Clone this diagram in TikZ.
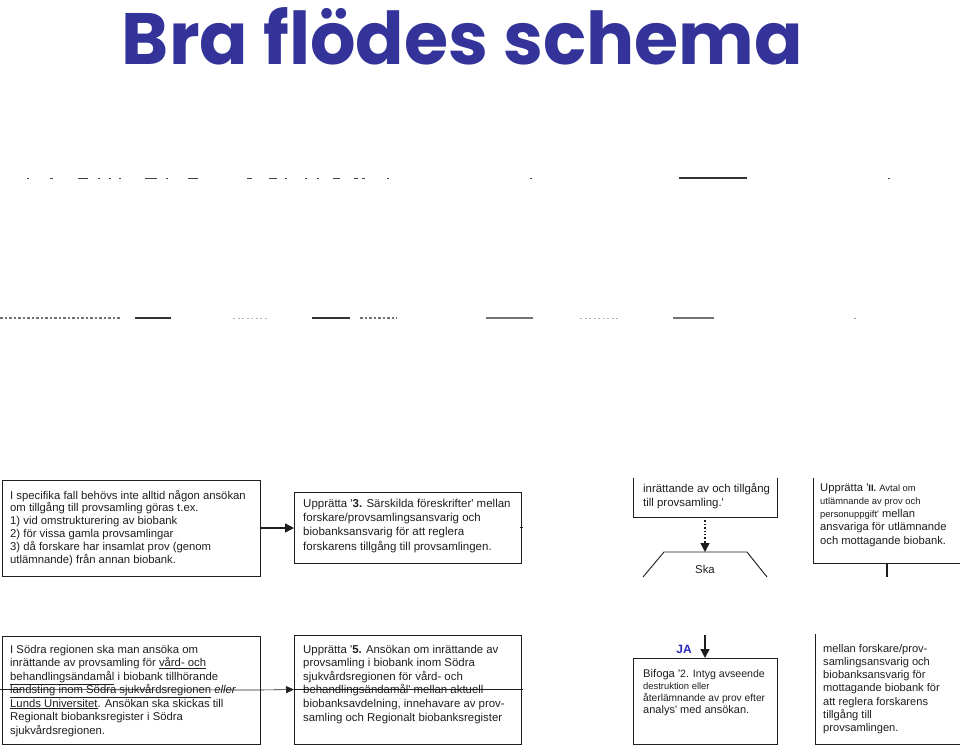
\documentclass[tikz,border=0pt]{standalone}
\usepackage{fontspec}
\setmainfont{Liberation Sans}[Ligatures=TeXOff]
\newfontfamily\titlefont{Poppins}
\usetikzlibrary{arrows.meta}
\definecolor{titleblue}{RGB}{51,51,153}
\definecolor{jablue}{RGB}{40,40,190}
\definecolor{ink}{RGB}{30,30,30}
\newcommand\smf{\fontsize{9.4}{12}\selectfont}
\newcommand\mdf{\fontsize{10.2}{12}\selectfont}
\newcommand\nmf{\fontsize{11.2}{12}\selectfont}
\begin{document}
\begin{tikzpicture}[x=1pt,y=-1pt,
  boxnode/.style={draw=ink,line width=0.9pt,inner sep=0pt,outer sep=0pt,anchor=north west},
  boxline/.style={draw=ink,line width=0.9pt},
  txt/.style={anchor=base west,inner sep=0pt,align=left,text=ink},
  frag/.style={draw=black!80,line width=1.3pt},
  fragdot/.style={draw=black!55,line width=1.2pt,dash pattern=on 2.5pt off 2pt},
  arrowtip/.style={-{Triangle[width=9pt,length=9pt]}}]
\useasboundingbox (0,0) rectangle (960,746);

% title
\node[anchor=base,inner sep=0pt,text=titleblue] (title) at (462.5,65)
  {\resizebox{681pt}{57pt}{\titlefont\bfseries Bra flödes schema}};

% clipped fragments at the top
\coordinate (f1a) at (679,178); \coordinate (f1b) at (747,178);
\draw[frag] (f1a) -- (f1b);
\foreach \a/\b in {27/29,50/53,78/88,98/100,109/111,119/121,145/157,166/168,188/198,247/252,269/277,285/287,305/307,317/319,333/340,354/358,362/365,387/389,530/532,888/890}
  \draw[draw=black!75,line width=1.2pt] (\a,178.5) -- (\b,178.5);
\foreach \a/\b in {135/171,312/350}
  \draw[frag] (\a,318) -- (\b,318);
\foreach \a/\b in {486/533,673/714}
  \draw[draw=black!55,line width=1.3pt] (\a,318) -- (\b,318);
\foreach \a/\b in {0/120,360/397}
  \draw[fragdot] (\a,318) -- (\b,318);
\foreach \a/\b in {233/268,580/620}
  \draw[draw=black!30,line width=1pt,dash pattern=on 2pt off 2.5pt] (\a,318) -- (\b,318);
\draw[draw=black!40,line width=1pt] (854,318) -- (856,318);

% ---- top row ----
\node[boxnode,minimum width=258pt,minimum height=96pt] (b1) at (2,480) {};
\node[txt,font=\fontsize{11.3}{12.8}\selectfont] (t1) at (10,563)
  {I specifika fall behövs inte alltid någon ansökan\\
   om tillgång till provsamling göras t.ex.\\
   1) vid omstrukturering av biobank\\
   2) för vissa gamla provsamlingar\\
   3) då forskare har insamlat prov (genom\\
   utlämnande) från annan biobank.};

\node[boxnode,minimum width=227pt,minimum height=71pt] (b2) at (294,492) {};
\node[txt,font=\fontsize{11.5}{14.3}\selectfont] (t2) at (303,550)
  {Upprätta '\textbf{3.} Särskilda föreskrifter' mellan\\
   forskare/provsamlingsansvarig och\\
   biobanksansvarig för att reglera\\
   forskarens tillgång till provsamlingen.};
\draw[line width=0.8pt,draw=ink] (520,527) -- (523,527);

\draw[draw=ink,line width=1.4pt,arrowtip] (b1.east) -- (b2.west |- b1.east);

% box 3 (clipped top)
\coordinate (b3tl) at (633,478); \coordinate (b3bl) at (633,517);
\coordinate (b3br) at (777,517); \coordinate (b3tr) at (777,478);
\coordinate (b3s) at (705,517);
\draw[boxline] (b3tl) -- (b3bl) -- (b3br) -- (b3tr);
\node[txt,font=\fontsize{11.4}{14}\selectfont] (t3) at (643,506)
  {inrättande av och tillgång\\ till provsamling.'};

% trapezoid "Ska"
\coordinate (z1) at (643,577); \coordinate (z2) at (664,552);
\coordinate (z3) at (747,552); \coordinate (z4) at (767,577);
\coordinate (zt) at (705,552);
\draw[boxline] (z1) -- (z2) -- (z3) -- (z4);
\node[inner sep=0pt,text=ink,font=\fontsize{11.4}{13}\selectfont] (ska) at (705,569) {Ska};
\draw[draw=ink,line width=1.4pt,dotted] (b3s) -- (705,543);
\draw[draw=ink,line width=1.4pt,arrowtip] (705,542) -- (zt);

% box 4 (clipped top, open right)
\coordinate (b4tl) at (813,478); \coordinate (b4bl) at (813,563);
\coordinate (b4br) at (960,563); \coordinate (b4s) at (887,563);
\coordinate (b4e) at (887,577);
\draw[boxline] (b4tl) -- (b4bl) -- (b4br);
\draw[draw=ink,line width=1.8pt] (b4s) -- (b4e);
\node[txt,font=\fontsize{11.2}{13.3}\selectfont] (t4) at (820,544.2)
  {Upprätta '\textbf{\smf II.} {\smf Avtal om}\\
   {\smf utlämnande av prov och}\\
   {\smf personuppgift'} mellan\\
   ansvariga för utlämnande\\
   och mottagande biobank.};

% ---- bottom row ----
\node[boxnode,minimum width=258pt,minimum height=108pt] (b5) at (2,636) {};
\node[txt,font=\fontsize{11.3}{13.5}\selectfont] (t5) at (10,734)
  {I Södra regionen ska man ansöka om\\
   inrättande av provsamling för \underline{vård- och}\\
   \underline{behandlingsändamål} i biobank tillhörande\\
   \underline{landsting inom Södra sjukvårdsregionen} \textit{eller}\\
   \underline{Lunds Universitet}. Ansökan ska skickas till\\
   Regionalt biobanksregister i Södra\\
   sjukvårdsregionen.};

\node[boxnode,minimum width=227pt,minimum height=109pt] (b6) at (294,635) {};
\node[txt,font=\fontsize{11.4}{13.6}\selectfont] (t6) at (303,721)
  {Upprätta '\textbf{5.} Ansökan om inrättande av\\
   provsamling i biobank inom Södra\\
   sjukvårdsregionen för vård- och\\
   behandlingsändamål' mellan aktuell\\
   biobanksavdelning, innehavare av prov-\\
   samling och Regionalt biobanksregister};

\coordinate (L) at (0,689.5); \coordinate (R) at (523,689.5);
\draw[draw=ink,line width=0.6pt] (L) -- (b5.east);
\draw[draw=ink,line width=0.6pt,-{Triangle[width=7pt,length=8pt]}] (b5.east) -- (b6.west);
\draw[draw=ink,line width=0.6pt] (b6.west) -- (R);

% JA arrow and box 7
\node[boxnode,minimum width=144pt,minimum height=86pt] (b7) at (633,658) {};
\coordinate (ja0) at (705,635);
\draw[draw=ink,line width=1.4pt,arrowtip] (ja0) -- (ja0 |- b7.north);
\node[inner sep=0pt,text=jablue,font=\fontsize{12}{14}\selectfont\bfseries] (ja) at (684,649) {JA};
\node[txt,font=\fontsize{10.6}{12.3}\selectfont] (t7) at (643,713.9)
  {{\nmf Bifoga '}2. Intyg avseende\\
   {\smf destruktion eller}\\
   {\mdf återlämnande av prov efter}\\
   {\fontsize{11}{12.3}\selectfont analys' med ansökan.}};

% box 8 (clipped top, open right)
\coordinate (b8tl) at (815,634); \coordinate (b8bl) at (815,744);
\coordinate (b8br) at (960,744);
\draw[boxline] (b8tl) -- (b8bl) -- (b8br);
\node[txt,font=\fontsize{11.1}{13.3}\selectfont] (t8) at (823,731.8)
  {mellan forskare/prov-\\
   samlingsansvarig och\\
   biobanksansvarig för\\
   mottagande biobank för\\
   att reglera forskarens\\
   tillgång till\\
   provsamlingen.};
\end{tikzpicture}
\end{document}
